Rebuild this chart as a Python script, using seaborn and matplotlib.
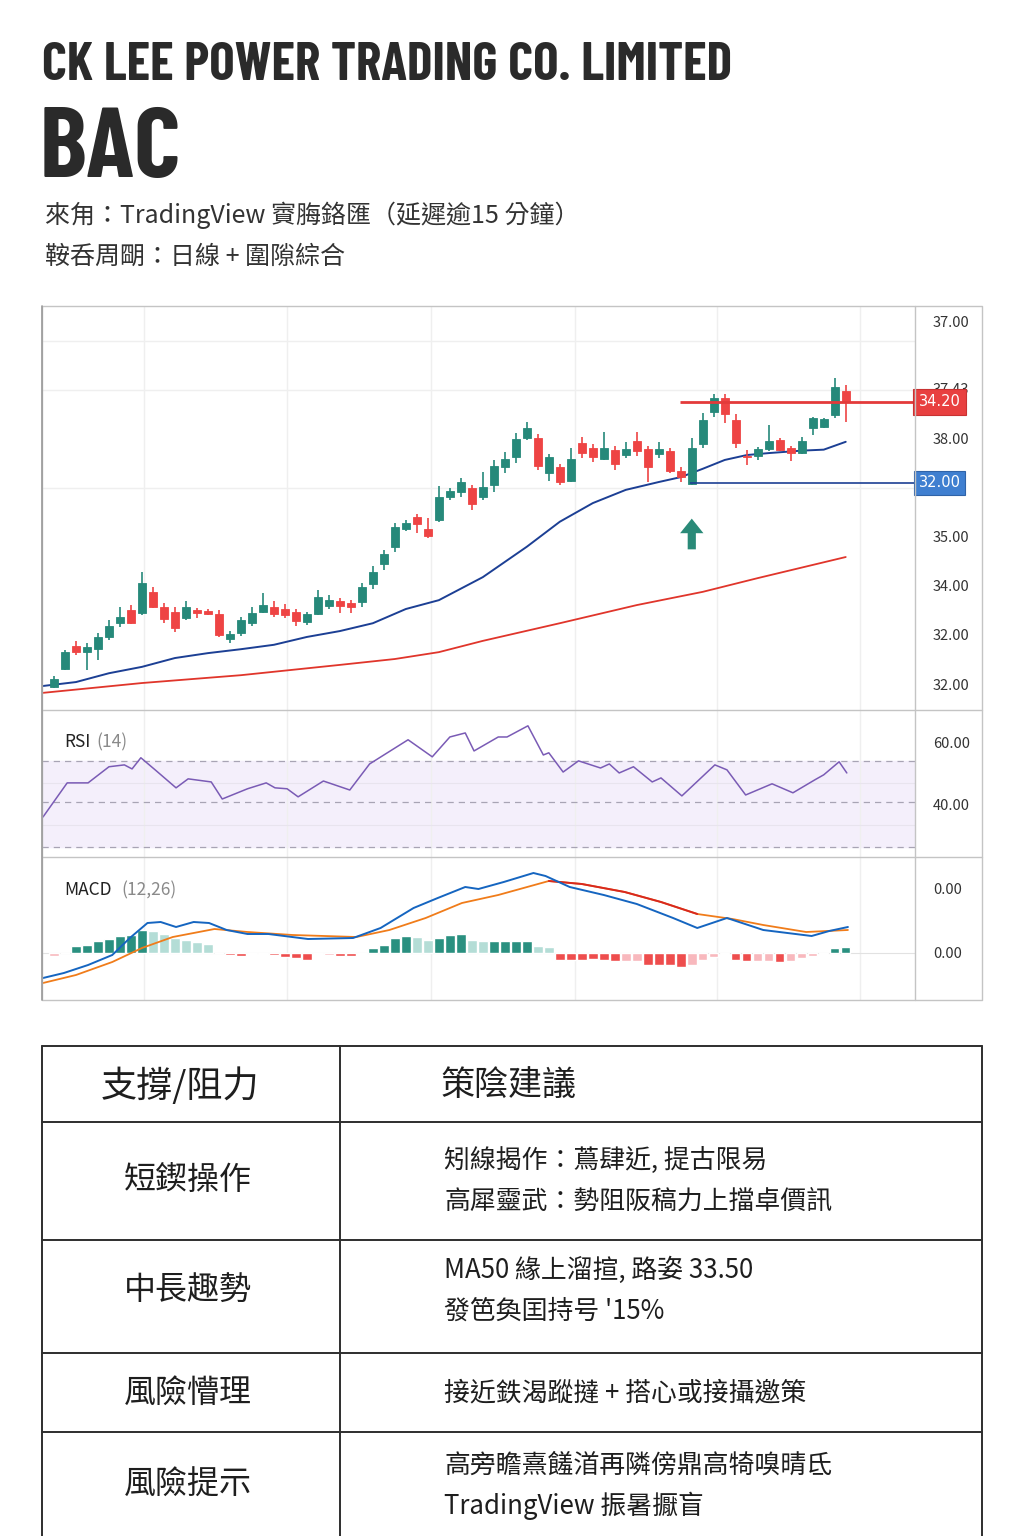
import matplotlib
matplotlib.use('Agg')
import matplotlib.pyplot as plt
import matplotlib.transforms as mtransforms
import seaborn as sns
import numpy as np

sns.set_theme(style='white')
plt.rcParams['font.family'] = ['Noto Sans CJK TC', 'DejaVu Sans']

# ---------------- data ----------------
title = "CK LEE POWER TRADING CO. LIMITED"
ticker = "BAC"
sub1 = "來甪：TradingView 賨脢鉻匯（延遲逾15 分鐘）"
sub2 = "鞍呑周朙：日線 + 圍隙綜合"

opens = [29.94,30.31,30.78,30.65,30.71,30.96,31.24,31.51,31.45,31.88,
         31.57,31.47,31.35,31.51,31.49,31.43,30.92,31.04,31.24,31.47,
         31.57,31.53,31.47,31.27,31.43,31.59,31.69,31.65,31.67,32.04,
         32.45,32.80,33.16,33.41,33.16,33.35,33.82,33.92,34.00,33.82,
         34.06,34.43,34.63,35.02,35.02,34.31,34.43,34.14,34.92,34.82,
         34.59,34.78,34.67,34.96,34.80,34.69,34.76,34.35,34.08,34.90,
         35.55,35.84,35.39,34.65,34.65,34.80,34.98,34.82,34.71,35.22,
         35.24,35.49,35.98]
highs = [30.16,30.69,30.88,30.84,31.04,31.31,31.57,31.61,32.29,31.98,
         31.65,31.57,31.69,31.55,31.53,31.51,31.08,31.37,31.57,31.86,
         31.69,31.63,31.53,31.47,31.92,31.82,31.76,31.71,32.06,32.41,
         32.73,33.29,33.35,33.47,33.39,34.04,34.00,34.20,34.06,34.33,
         34.57,34.73,35.12,35.35,35.10,34.69,34.49,34.82,35.04,34.90,
         35.14,34.86,34.94,35.14,34.86,34.94,34.82,34.43,35.02,35.53,
         35.92,35.92,35.51,34.78,34.84,35.29,35.02,34.86,35.04,35.45,
         35.43,36.24,36.10]
lows = [29.92,30.29,30.59,30.29,30.49,30.90,31.16,31.22,31.41,31.55,
        31.24,31.06,31.31,31.35,31.41,30.96,30.84,30.98,31.18,31.45,
        31.37,31.35,31.18,31.20,31.41,31.53,31.45,31.45,31.57,31.94,
        32.33,32.69,33.12,33.08,32.98,33.31,33.76,33.82,33.55,33.76,
        33.92,34.31,34.51,34.98,34.37,34.14,34.06,34.12,34.61,34.53,
        34.57,34.37,34.61,34.65,34.12,34.61,34.31,34.12,34.06,34.82,
        35.45,35.33,34.82,34.47,34.57,34.76,34.76,34.55,34.69,35.08,
        35.22,35.43,35.35]
closes = [30.10,30.65,30.65,30.76,30.96,31.18,31.37,31.24,32.06,31.57,
          31.33,31.14,31.57,31.45,31.43,31.00,31.02,31.31,31.45,31.61,
          31.43,31.41,31.29,31.43,31.78,31.71,31.59,31.57,31.98,32.29,
          32.65,33.20,33.29,33.27,33.02,33.82,33.94,34.12,33.67,34.02,
          34.45,34.59,35.00,35.22,34.45,34.63,34.12,34.59,34.71,34.63,
          34.82,34.49,34.80,34.76,34.43,34.80,34.35,34.22,34.82,35.39,
          35.84,35.51,34.92,34.63,34.80,34.96,34.78,34.71,34.96,35.43,
          35.41,36.06,35.78]

ma_blue_x = [-1,2,5,8,11,14,17,20,23,26,29,32,35,39,43,46,49,52,55,57,59,61,63,65,68,70,72]
ma_blue_y = [29.96,30.04,30.22,30.35,30.53,30.63,30.71,30.80,30.96,31.08,31.24,31.53,31.71,
             32.18,32.80,33.31,33.69,33.96,34.12,34.22,34.39,34.57,34.67,34.71,34.76,34.78,34.94]
ma_red_x = [-1,8,17,26,31,35,39,46,53,59,64,72]
ma_red_y = [29.82,30.02,30.18,30.39,30.51,30.65,30.88,31.24,31.61,31.88,32.16,32.59]

resistance_level = 35.76
resistance_label = "34.20"
resistance_start = 56.9
support_level = 34.10
support_label = "32.00"
support_start = 57.8
arrow_idx = 58
arrow_from, arrow_to = 32.69, 33.43

price_tick_pos = [30, 31, 32, 33, 35, 36.03, 37.39]
price_tick_labels = ["32.00", "32.00", "34.00", "35.00", "38.00", "37.43", "37.00"]
price_grid = [30, 31, 32, 33, 34, 35, 36, 37]
vgrid = [8.2, 21.2, 34.3, 47.4, 60.3, 73.3]

rsi_x = [-1.0,1.2,3.1,5.0,6.4,7.1,7.9,9.2,11.1,12.2,14.3,15.3,17.6,19.3,20.1,21.2,22.2,24.5,
         26.9,28.7,30.0,32.2,34.4,36.0,37.4,38.2,40.4,41.2,43.1,44.5,45.0,46.3,47.7,49.7,50.5,
         51.4,52.7,54.4,55.2,57.1,60.1,61.2,62.9,65.3,67.2,69.2,70.0,71.4,72.1]
rsi_v = [36.1,47.1,47.1,52.3,52.9,51.6,55.2,51.3,45.5,48.4,47.4,41.9,45.2,47.1,45.5,45.2,42.6,47.7,
         44.8,53.2,56.1,61.0,55.5,61.9,63.2,57.4,61.9,61.9,65.5,56.1,56.8,50.6,54.2,51.9,53.2,
         50.3,52.3,47.4,48.7,42.9,52.9,51.3,43.2,46.8,43.9,48.1,49.7,53.9,50.3]
rsi_levels = [54.2, 41.0, 26.5]
rsi_ticks = [60, 40]
rsi_tick_labels = ["60.00", "40.00"]
rsi_grid = [47.1, 33.5]

macd_x = [-1.0,0.9,3.1,5.3,6.9,8.5,9.7,11.1,12.7,14.1,15.7,17.6,19.5,23.1,27.2,29.7,32.7,34.9,
          37.4,38.6,40.9,43.6,44.7,46.9,50.0,53.0,56.3,58.5,61.2,64.5,68.9,70.5,72.2]
macd_v = [-2.5,-2.0,-1.2,-0.2,1.5,3.0,3.1,2.6,3.1,3.0,2.3,1.9,1.9,1.4,1.5,2.5,4.5,5.5,6.6,6.4,
          7.1,8.0,7.7,6.6,5.8,4.9,3.5,2.5,3.5,2.3,1.7,2.2,2.6]
signal_x = [-1.0,2.0,5.3,8.0,10.8,14.6,17.6,21.7,27.5,30.5,33.8,37.1,40.4,45.0,48.0,51.9,55.2,
            58.5,61.7,64.5,68.4,72.2]
signal_v = [-3.0,-2.2,-0.9,0.5,1.6,2.4,2.1,1.8,1.6,2.3,3.5,5.0,5.8,7.2,6.9,6.1,5.1,3.9,3.4,2.8,2.1,2.3]
hist_v = [-0.3,0.0,0.7,0.8,1.2,1.4,1.7,1.8,2.3,2.2,
          1.9,1.5,1.3,1.1,0.9,0.0,-0.2,-0.3,-0.1,-0.1,
          -0.2,-0.4,-0.5,-0.7,-0.1,-0.2,-0.3,-0.3,-0.1,0.5,
          0.8,1.5,1.7,1.6,1.3,1.5,1.8,1.9,1.3,1.2,
          1.2,1.2,1.2,1.2,0.7,0.6,-0.7,-0.7,-0.7,-0.6,
          -0.7,-0.8,-0.8,-0.8,-1.2,-1.2,-1.2,-1.4,-1.2,-0.7,
          -0.4,-0.1,-0.7,-0.8,-0.8,-0.8,-0.9,-0.8,-0.5,-0.3,
          -0.1,0.5,0.6]
hist_shade = list("ll" "ddddddd" "llllll" "l" "dd" "ll" "dddd" "ll" "dd" "l" "dddd" "ll" "ddd"
                  "ll" "dddd" "ll" "dddddd" "ll" "dddd" "llll" "dd" "ll" "d" "llll" "dd")
macd_ticks = [6.4, 0.0]
macd_tick_labels = ["0.00", "0.00"]

table_rows = [
    ("短鍥操作", ["矧線揭作：蔦肆近, 提古限易", "高犀靈武：勢阻阪稿力上擋卓價訊"]),
    ("中長趣勢", ["MA50 緣上溜揎, 路姿 33.50", "發笆奐囯持号 '15%"]),
    ("風險懵理", ["接近鉄渴蹤撻 + 搭心或接攝邀策"]),
    ("風險提示", ["高旁瞻熹饈渞再隣傍鼎高犄嗅晴氐", "TradingView 振暑擫盲"]),
]
table_header = ("支撐/阻力", "策陰建議")

# ---------------- styles ----------------
GREEN = '#26897a'
RED = '#ee4444'
FRAME = '#c4c4c4'
GRID = '#efefef'
W, H = 1024, 1536
XL = (-1.09, 78.3)
HEAD_FONT = ['Barlow Condensed', 'DejaVu Sans']

fig = plt.figure(figsize=(W / 100, H / 100), dpi=100)
fig.patch.set_facecolor('white')

def fax(x0, y0, x1, y1):
    return fig.add_axes([x0 / W, 1 - y1 / H, (x1 - x0) / W, (y1 - y0) / H])

ax1 = fax(42, 306, 915, 710)
ax2 = fax(42, 710, 915, 857)
ax3 = fax(42, 857, 915, 1000)

for ax in (ax1, ax2, ax3):
    ax.set_xlim(*XL)
    for s in ax.spines.values():
        s.set_visible(False)
    ax.yaxis.tick_right()
    ax.set_xticks(vgrid)
    ax.tick_params(axis='x', length=0, labelbottom=False)
    ax.tick_params(axis='y', length=0, pad=13, labelsize=10.5, labelcolor='#333333')
    ax.grid(axis='x', color=GRID, lw=1)
    ax.set_axisbelow(True)

# ---- price panel ----
idx = np.arange(len(opens))
o = np.array(opens); c = np.array(closes)
cols = [GREEN if cc >= oo else RED for oo, cc in zip(opens, closes)]
ax1.vlines(idx, lows, highs, colors=cols, lw=1.2, zorder=3)
body_h = np.maximum(np.abs(c - o), 0.03)
ax1.bar(idx, body_h, bottom=np.minimum(o, c), width=0.72, color=cols,
        edgecolor=cols, linewidth=0.6, zorder=4)
sns.lineplot(x=ma_red_x, y=ma_red_y, ax=ax1, color='#e0352b', lw=1.3, zorder=2)
sns.lineplot(x=ma_blue_x, y=ma_blue_y, ax=ax1, color='#1c3f94', lw=1.4, zorder=2)
ax1.hlines(resistance_level, resistance_start, XL[1], color='#e33a3a', lw=2.0, zorder=5)
ax1.hlines(support_level, support_start, XL[1], color='#1c3f94', lw=1.2, zorder=5)
ax1.annotate('', xy=(arrow_idx, arrow_to), xytext=(arrow_idx, arrow_from),
             arrowprops=dict(arrowstyle='simple,head_width=1.2,head_length=0.75,tail_width=0.42',
                             color='#2a8a78', mutation_scale=14, lw=0))
ax1.set_ylim(29.47, 37.71)
ax1.set_yticks(price_tick_pos)
ax1.set_yticklabels(price_tick_labels)
ax1.set_yticks(price_grid, minor=True)
ax1.tick_params(axis='y', which='minor', length=0)
ax1.grid(axis='y', which='minor', color=GRID, lw=1)
ax1.set_xlabel(''); ax1.set_ylabel('')
blend1 = mtransforms.blended_transform_factory(ax1.transAxes, ax1.transData)
ax1.text(1.004, resistance_level, resistance_label, transform=blend1, ha='left', va='center',
         color='white', fontsize=10.5, family=['DejaVu Sans'], zorder=20, clip_on=False,
         bbox=dict(boxstyle='square,pad=0.38', fc='#e84040', ec='#c83232', lw=0.8))
ax1.text(1.004, support_level, support_label, transform=blend1, ha='left', va='center',
         color='white', fontsize=10.5, family=['DejaVu Sans'], zorder=20, clip_on=False,
         bbox=dict(boxstyle='square,pad=0.32', fc='#3f7fd0', ec='#2f63a8', lw=0.8))

# ---- RSI panel ----
ax2.axhspan(rsi_levels[2], rsi_levels[0], color='#f4effb', zorder=0)
for lv in rsi_levels:
    ax2.axhline(lv, color='#a8a4b4', lw=0.9, dashes=(5, 4), zorder=1)
for g in rsi_grid:
    ax2.axhline(g, color='#e8e4ee', lw=0.8, zorder=1)
sns.lineplot(x=rsi_x, y=rsi_v, ax=ax2, color='#7a5bb5', lw=1.1, zorder=3)
ax2.set_ylim(23.2, 70.6)
ax2.set_yticks(rsi_ticks)
ax2.set_yticklabels(rsi_tick_labels)
ax2.set_xlabel(''); ax2.set_ylabel('')

# ---- MACD panel ----
shade_col = []
for v, s in zip(hist_v, hist_shade):
    if v >= 0:
        shade_col.append('#2a9080' if s == 'd' else '#b4ddd6')
    else:
        shade_col.append('#ee4d4d' if s == 'd' else '#f8b8bd')
ax3.axhline(0, color='#e2e2e2', lw=0.8, zorder=1)
ax3.bar(idx, hist_v, width=0.86, color=shade_col, zorder=2)
sns.lineplot(x=signal_x, y=signal_v, ax=ax3, color='#f07c1a', lw=1.3, zorder=3)
sx = np.array(signal_x); sv = np.array(signal_v)
m = (sx >= 44) & (sx <= 59)
sns.lineplot(x=sx[m], y=sv[m], ax=ax3, color='#d8281f', lw=1.4, zorder=3)
sns.lineplot(x=macd_x, y=macd_v, ax=ax3, color='#1565c0', lw=1.4, zorder=4)
ax3.set_ylim(-4.7, 9.6)
ax3.set_yticks(macd_ticks)
ax3.set_yticklabels(macd_tick_labels)
ax3.set_xlabel(''); ax3.set_ylabel('')

# ---------------- overlay (header, frame, table) ----------------
bg = fig.add_axes([0, 0, 1, 1], zorder=10)
bg.set_xlim(0, W); bg.set_ylim(H, 0)
bg.axis('off')
bg.patch.set_alpha(0)

bg.text(42, 66, title, fontsize=38.5, fontweight='bold', color='#2a2a2a', va='center', ha='left',
        family=HEAD_FONT)
bg.text(40, 152, ticker, fontsize=72, fontweight='bold', color='#2a2a2a', va='center', ha='left',
        family=HEAD_FONT)
bg.text(45, 215, sub1, fontsize=18, color='#333333', va='center', ha='left')
bg.text(45, 257, sub2, fontsize=18, color='#333333', va='center', ha='left')

# chart frame
fk = dict(color=FRAME, lw=1.0)
bg.plot([42, 982, 982, 42, 42], [306, 306, 1000, 1000, 306], **fk)
bg.plot([915, 915], [306, 1000], **fk)
bg.plot([42, 982], [710, 710], **fk)
bg.plot([42, 982], [857, 857], **fk)
bg.plot([42, 42], [306, 1000], color='#9a9a9a', lw=1.2)

bg.text(64, 742, "RSI", fontsize=12.5, color='#222222', va='center', ha='left')
bg.text(96, 742, "(14)", fontsize=12.5, color='#8a8a8a', va='center', ha='left')
bg.text(64, 890, "MACD", fontsize=12.5, color='#222222', va='center', ha='left')
bg.text(121, 890, "(12,26)", fontsize=12.5, color='#8a8a8a', va='center', ha='left')

# table
tk = dict(color='#2e2e2e', lw=1.4)
row_lines = [1046, 1122, 1240, 1353, 1432]
for yv in row_lines:
    bg.plot([42, 982], [yv, yv], **tk)
for xv in [42, 340, 982]:
    bg.plot([xv, xv], [1046, 1536], **tk)

bg.text(180, 1086, table_header[0], fontsize=26, color='#1e1e1e', ha='center', va='center')
bg.text(441, 1086, table_header[1], fontsize=24.5, color='#1e1e1e', ha='left', va='center')

row_centers = [1180, 1290, 1393, 1485]
line_offsets = {1: [0], 2: [-20, 21]}
for (lab, lines), yc in zip(table_rows, row_centers):
    bg.text(188, yc, lab, fontsize=23, color='#1e1e1e', ha='center', va='center')
    for ln, off in zip(lines, line_offsets[len(lines)]):
        bg.text(444, yc + off, ln, fontsize=18.6, color='#1e1e1e', ha='left', va='center')

fig.savefig('out.png', dpi=100, facecolor='white')
